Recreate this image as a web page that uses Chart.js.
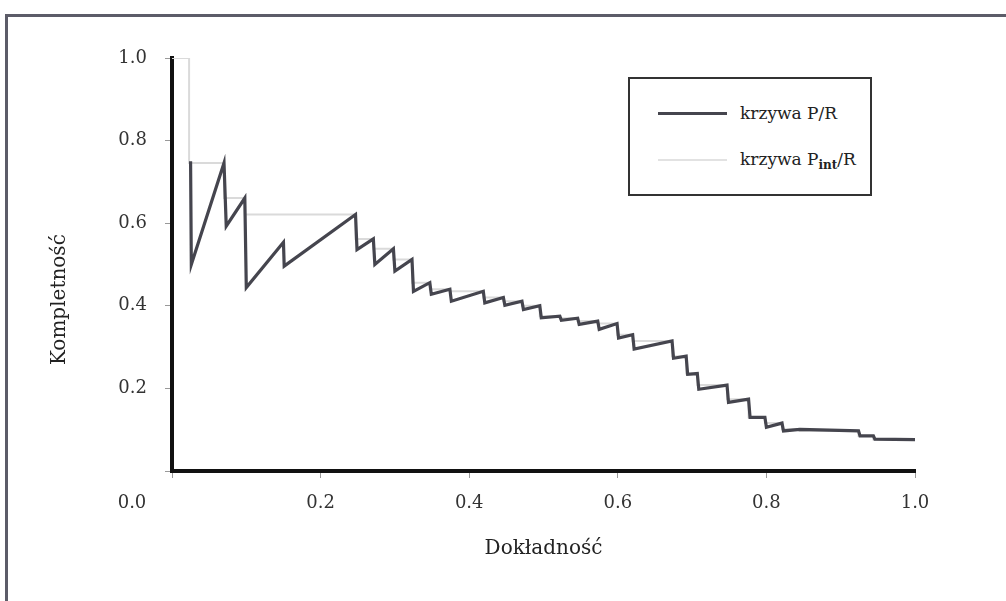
<!DOCTYPE html>
<html lang="pl">
  <head>
    <meta charset="UTF-8" />
    <title>Krzywa P/R</title>
    <style>
      body { margin: 0; background: #fff; }
      #wrap { position: relative; width: 1006px; height: 601px; }
      #frame {
        position: absolute; left: 5px; top: 14px; right: 0; bottom: 0;
        border-left: 3px solid #5c5c68; border-top: 3px solid #5c5c68;
        pointer-events: none;
      }
      #legend {
        position: absolute; left: 628px; top: 77px; width: 240px; height: 115px;
        border: 2px solid #333; background: #fff;
        font-family: "DejaVu Serif", serif; font-size: 17px; color: #222;
      }
      .sw { position: absolute; left: 28px; width: 69px; }
      .lbl { position: absolute; left: 110px; line-height: 20px; white-space: nowrap; }
      .lbl sub { font-size: 12px; font-weight: bold; }
    </style>
  </head>
  <body>
    <div id="wrap">
      <canvas id="chart"></canvas>
      <div id="frame"></div>
      <div id="legend">
        <div class="sw" style="top: 33px; height: 3px; background: #45454e"></div>
        <div class="lbl" style="top: 24px">krzywa P/R</div>
        <div class="sw" style="top: 80px; height: 2px; background: #e2e2e2"></div>
        <div class="lbl" style="top: 70px">krzywa P<sub>int</sub>/R</div>
      </div>
    </div>
    <script src="https://cdn.jsdelivr.net/npm/chart.js@4.4.0/dist/chart.umd.min.js"></script>
    <script>
      // krzywa P/R (piła)
      const prX = [0.025, 0.026, 0.070, 0.073, 0.098, 0.100, 0.150, 0.151, 0.247, 0.249,
        0.271, 0.273, 0.298, 0.300, 0.323, 0.325, 0.347, 0.349, 0.374, 0.376,
        0.419, 0.421, 0.446, 0.448, 0.471, 0.473, 0.495, 0.497, 0.522, 0.524,
        0.546, 0.548, 0.573, 0.575, 0.599, 0.601, 0.620, 0.622, 0.673, 0.675,
        0.692, 0.694, 0.707, 0.709, 0.747, 0.749, 0.776, 0.778, 0.798, 0.800,
        0.821, 0.823, 0.845, 0.924, 0.926, 0.944, 0.946, 1.0];
      const prY = [0.75, 0.50, 0.746, 0.593, 0.661, 0.444, 0.554, 0.496, 0.621, 0.536,
        0.562, 0.50, 0.538, 0.484, 0.512, 0.435, 0.456, 0.428, 0.44, 0.411,
        0.435, 0.407, 0.42, 0.401, 0.411, 0.391, 0.40, 0.371, 0.375, 0.365,
        0.37, 0.355, 0.363, 0.343, 0.357, 0.322, 0.33, 0.295, 0.315, 0.273,
        0.278, 0.234, 0.236, 0.198, 0.208, 0.166, 0.174, 0.13, 0.13, 0.106,
        0.116, 0.097, 0.101, 0.097, 0.085, 0.085, 0.077, 0.076];

      // krzywa Pint/R (schodki)
      const intX = [0, 0.023, 0.070, 0.098, 0.247, 0.271, 0.298, 0.323, 0.347, 0.374,
        0.419, 0.446, 0.471, 0.495, 0.522, 0.546, 0.573, 0.599, 0.620, 0.673,
        0.692, 0.707, 0.747, 0.776, 0.798, 0.821, 0.845, 0.924, 0.944, 1.0];
      const intY = [1.0, 1.0, 0.746, 0.661, 0.621, 0.562, 0.538, 0.512, 0.456, 0.44,
        0.435, 0.42, 0.411, 0.40, 0.375, 0.37, 0.363, 0.357, 0.33, 0.315,
        0.278, 0.236, 0.208, 0.174, 0.13, 0.116, 0.101, 0.097, 0.085, 0.076];

      const tickValues = [0, 0.2, 0.4, 0.6, 0.8, 1.0];
      const tickLabels = ["0.0", "0.2", "0.4", "0.6", "0.8", "1.0"];

      const serif = "'DejaVu Serif', serif";

      function toPoints(xs, ys) {
        return xs.map((x, i) => ({ x: x, y: ys[i] }));
      }

      function label(v) {
        if (v === 0) return ""; // 0.0 is drawn once, below the corner
        const i = tickValues.findIndex((t) => Math.abs(t - v) < 1e-6);
        return i >= 0 ? tickLabels[i] : "";
      }

      // single "0.0" under the origin + y title sitting a bit low, as in the scan
      const extraText = {
        id: "extraText",
        afterDraw(chart) {
          const ctx = chart.ctx;
          const x0 = chart.scales.x.getPixelForValue(0);
          const y0 = chart.scales.y.getPixelForValue(0);
          ctx.save();
          ctx.font = "18px " + serif;
          ctx.fillStyle = "#333";
          ctx.textAlign = "center";
          ctx.textBaseline = "middle";
          ctx.fillText(tickLabels[0], x0 - 40, y0 + 32);

          ctx.font = "20px " + serif;
          ctx.fillStyle = "#222";
          ctx.translate(60, chart.scales.y.getPixelForValue(0.415));
          ctx.rotate(-Math.PI / 2);
          ctx.fillText("Kompletność", 0, 0);
          ctx.restore();
        },
      };

      const axisCommon = {
        type: "linear",
        min: 0,
        max: 1,
        border: { display: true, color: "#111", width: 4 },
        grid: { drawOnChartArea: false, drawTicks: true, tickLength: 7, tickColor: "#999" },
        afterBuildTicks: (scale) => {
          scale.ticks = tickValues.map((v) => ({ value: v }));
        },
      };

      new Chart(document.getElementById("chart"), {
        type: "line",
        data: {
          datasets: [
            {
              label: "krzywa P/R",
              data: toPoints(prX, prY),
              borderColor: "#45454e",
              borderWidth: 3.2,
              pointRadius: 0,
              tension: 0,
            },
            {
              label: "krzywa Pint/R",
              data: toPoints(intX, intY),
              borderColor: "#dadada",
              borderWidth: 2,
              pointRadius: 0,
              stepped: "after",
            },
          ],
        },
        options: {
          responsive: true,
          maintainAspectRatio: false,
          animation: false,
          layout: { padding: { left: 45, top: 58, right: 91, bottom: 36 } },
          plugins: { legend: { display: false }, tooltip: { enabled: false } },
          scales: {
            x: {
              ...axisCommon,
              ticks: { callback: label, padding: 15, color: "#333", font: { family: serif, size: 18 }, maxRotation: 0 },
              title: { display: true, text: "Dokładność", color: "#222", font: { family: serif, size: 20 } },
              afterFit: (scale) => { scale.height = 94; },
            },
            y: {
              ...axisCommon,
              ticks: { callback: label, padding: 18, color: "#333", font: { family: serif, size: 18 } },
              title: { display: false },
              afterFit: (scale) => { scale.width = 127; },
            },
          },
        },
        plugins: [extraText],
      });
    </script>
  </body>
</html>
